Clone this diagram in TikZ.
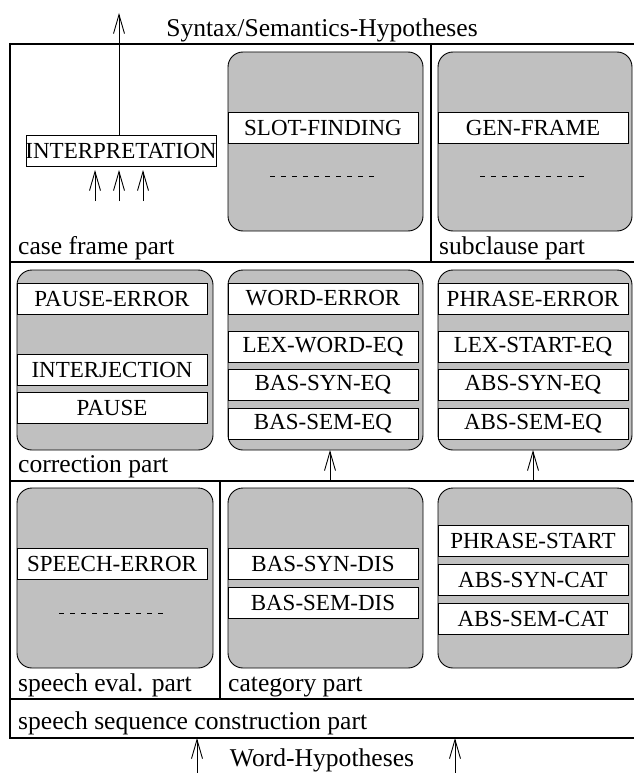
\documentclass[tikz,border=0pt]{standalone}
\usepackage{fontspec}
\setmainfont{Liberation Serif}
\usetikzlibrary{arrows.meta}
\definecolor{boxgray}{RGB}{192,192,192}
\begin{document}
\begin{tikzpicture}[x=1pt,y=-1pt,
  frameline/.style={line width=2pt},
  rbox/.style={draw, fill=boxgray, rounded corners=15pt, line width=0.9pt, inner sep=0pt, outer sep=0pt},
  bar/.style={draw, fill=white, line width=0.9pt, inner sep=0pt, outer sep=0pt, minimum width=190pt, minimum height=31pt, font=\fontsize{23}{26}\selectfont},
  lbl/.style={anchor=base west, inner sep=0pt, font=\fontsize{25.6}{30}\selectfont},
  arr/.style={-{Straight Barb[length=19pt,width=11pt]}, line width=0.9pt},
  dots/.style={dash pattern=on 5pt off 6pt, line width=0.7pt}]
\useasboundingbox (0,0) rectangle (633,773);

% frame
\draw[frameline] (10,44) -- (640,44);
\draw[frameline] (10,262) -- (640,262);
\draw[frameline] (10,481) -- (640,481);
\draw[frameline] (10,699) -- (640,699);
\draw[frameline] (10,738) -- (640,738);
\draw[frameline] (10,43) -- (10,739);
\draw[frameline] (431,44) -- (431,262);
\draw[frameline] (220,481) -- (220,699);

% top row
\node[rbox, minimum width=195pt, minimum height=179pt] (sfbox) at (325.5,141.5) {};
\node[rbox, minimum width=194pt, minimum height=179pt] (gfbox) at (535,141.5) {};
\node[bar] (slot) at (323,127.5) {SLOT-FINDING};
\node[bar] (gen) at (533,127.5) {GEN-FRAME};
\coordinate (d1a) at (270,176); \coordinate (d1b) at (378,176);
\coordinate (d2a) at (480,176); \coordinate (d2b) at (588,176);
\draw[dots] (d1a) -- (d1b);
\draw[dots] (d2a) -- (d2b);
\node[bar] (interp) at (121,150.5) {\makebox[0pt]{INTERPRETATION}};
\coordinate (outtop) at (119,13);
\draw[arr] (interp.north -| outtop) -- (outtop);
\coordinate (a1s) at (95,201); \coordinate (a1e) at (95,170);
\coordinate (a2s) at (119,201); \coordinate (a2e) at (119,170);
\coordinate (a3s) at (143,201); \coordinate (a3e) at (143,170);
\draw[arr] (a1s) -- (a1e);
\draw[arr] (a2s) -- (a2e);
\draw[arr] (a3s) -- (a3e);
\node[lbl] (cfl) at (18,254) {case frame part};
\node[lbl] (scl) at (439,254) {subclause part};
\node[font=\fontsize{25.6}{30}\selectfont, anchor=base, inner sep=0pt] (synt) at (322,37) {Syntax/Semantics-Hypotheses};

% middle row
\node[rbox, minimum width=196pt, minimum height=180pt] (corrbox) at (115,360) {};
\node[rbox, minimum width=195pt, minimum height=180pt] (wordbox) at (325.5,360) {};
\node[rbox, minimum width=194pt, minimum height=180pt] (phrbox) at (535,360) {};
\node[bar] (pauseerr) at (112,298.5) {PAUSE-ERROR};
\node[bar] (interj) at (112,369.5) {INTERJECTION};
\node[bar] (pause) at (112,407.5) {PAUSE};
\node[bar] (worderr) at (323,298.5) {WORD-ERROR};
\node[bar] (lexword) at (323,346.5) {LEX-WORD-EQ};
\node[bar] (bassyneq) at (323,384.5) {BAS-SYN-EQ};
\node[bar] (bassemeq) at (323,423.5) {BAS-SEM-EQ};
\node[bar] (phraseerr) at (533,298.5) {PHRASE-ERROR};
\node[bar] (lexstart) at (533,346.5) {LEX-START-EQ};
\node[bar] (abssyneq) at (533,384.5) {ABS-SYN-EQ};
\node[bar] (abssemeq) at (533,423.5) {ABS-SEM-EQ};
\node[lbl] (corrl) at (18,472) {correction part};

% bottom row
\node[rbox, minimum width=196pt, minimum height=180pt] (sebox) at (115,578) {};
\node[rbox, minimum width=195pt, minimum height=180pt] (catbox) at (325.5,578) {};
\node[rbox, minimum width=194pt, minimum height=180pt] (absbox) at (535,578) {};
\node[bar] (speecherr) at (112,563.5) {SPEECH-ERROR};
\coordinate (d3a) at (59,613); \coordinate (d3b) at (168,613);
\draw[dots] (d3a) -- (d3b);
\node[bar] (bassyndis) at (323,563.5) {BAS-SYN-DIS};
\node[bar] (bassemdis) at (323,602.5) {BAS-SEM-DIS};
\node[bar] (phrstart) at (533,540.5) {PHRASE-START};
\node[bar] (abssyncat) at (533,579.5) {ABS-SYN-CAT};
\node[bar] (abssemcat) at (533,618.5) {ABS-SEM-CAT};
\node[lbl] (sel) at (18,691) {speech eval. part};
\node[lbl] (catl) at (228,691) {category part};
\node[lbl] (sscl) at (18,729) {speech sequence construction part};

% arrows between rows
\coordinate (m1) at (330,481); \coordinate (m2) at (533,481);
\draw[arr] (m1) -- (m1 |- wordbox.south);
\draw[arr] (m2) -- (m2 |- phrbox.south);

% bottom input
\coordinate (b1) at (197,773); \coordinate (b2) at (455,773);
\coordinate (b1t) at (197,738); \coordinate (b2t) at (455,738);
\draw[arr] (b1) -- (b1t);
\draw[arr] (b2) -- (b2t);
\node[font=\fontsize{25.6}{30}\selectfont, anchor=base, inner sep=0pt] (wordh) at (322,766) {Word-Hypotheses};
\end{tikzpicture}
\end{document}
